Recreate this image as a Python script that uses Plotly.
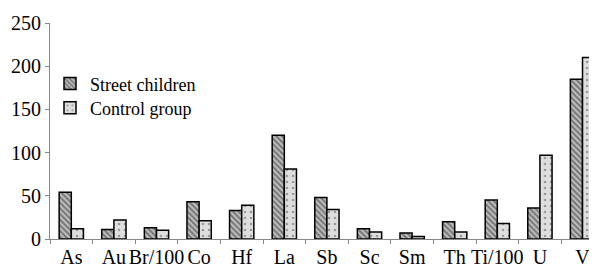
import plotly.graph_objects as go

categories = ["As", "Au", "Br/100", "Co", "Hf", "La", "Sb", "Sc", "Sm", "Th", "Ti/100", "U", "V"]
street_children = [54, 11, 13, 43, 33, 120, 48, 12, 7, 20, 45, 36, 185]
control_group = [12, 22, 10, 21, 39, 81, 34, 8, 3, 8, 18, 97, 210]
y_ticks = [0, 50, 100, 150, 200, 250]

fig = go.Figure()
fig.add_trace(go.Bar(
    x=categories, y=street_children, name="Street children", legend="legend",
    marker=dict(color="#b0b0b0", line=dict(color="black", width=1.5),
                pattern=dict(shape="\\", fgcolor="#2a2a2a", bgcolor="#c0c0c0", size=4, solidity=0.5)),
))
fig.add_trace(go.Bar(
    x=categories, y=control_group, name="Control group", legend="legend2",
    marker=dict(color="#dddddd", line=dict(color="black", width=1.5),
                pattern=dict(shape=".", fgcolor="#555555", bgcolor="#dedede", size=6, solidity=0.15)),
))

font = "Times New Roman"
leg_common = dict(xanchor="left", yanchor="middle",
                  font=dict(family=font, size=18, color="black"),
                  bgcolor="rgba(0,0,0,0)", itemwidth=30, borderwidth=0)
fig.update_layout(
    width=589, height=260,
    margin=dict(l=42, r=0, t=15, b=29, pad=0, autoexpand=False),
    plot_bgcolor="white", paper_bgcolor="white",
    barmode="group", bargap=0.43, bargroupgap=0,
    font=dict(family=font, size=20, color="black"),
    showlegend=True,
    legend=dict(x=0.0, y=0.718, **leg_common),
    legend2=dict(x=0.0, y=0.606, **leg_common),
    xaxis=dict(range=[-0.5, 12.34], tickson="boundaries", ticks="outside", ticklen=4,
               tickangle=0, automargin=False,
               tickcolor="#888", showline=True, linecolor="#888", linewidth=1,
               showgrid=False, zeroline=False,
               tickfont=dict(family=font, size=20, color="black")),
    yaxis=dict(range=[0, 250], tickvals=y_ticks, ticks="outside", ticklen=4,
               automargin=False,
               tickcolor="#888", showline=True, linecolor="#888", linewidth=1,
               showgrid=False, zeroline=False,
               tickfont=dict(family=font, size=20, color="black")),
)
fig.write_html("out.html")
